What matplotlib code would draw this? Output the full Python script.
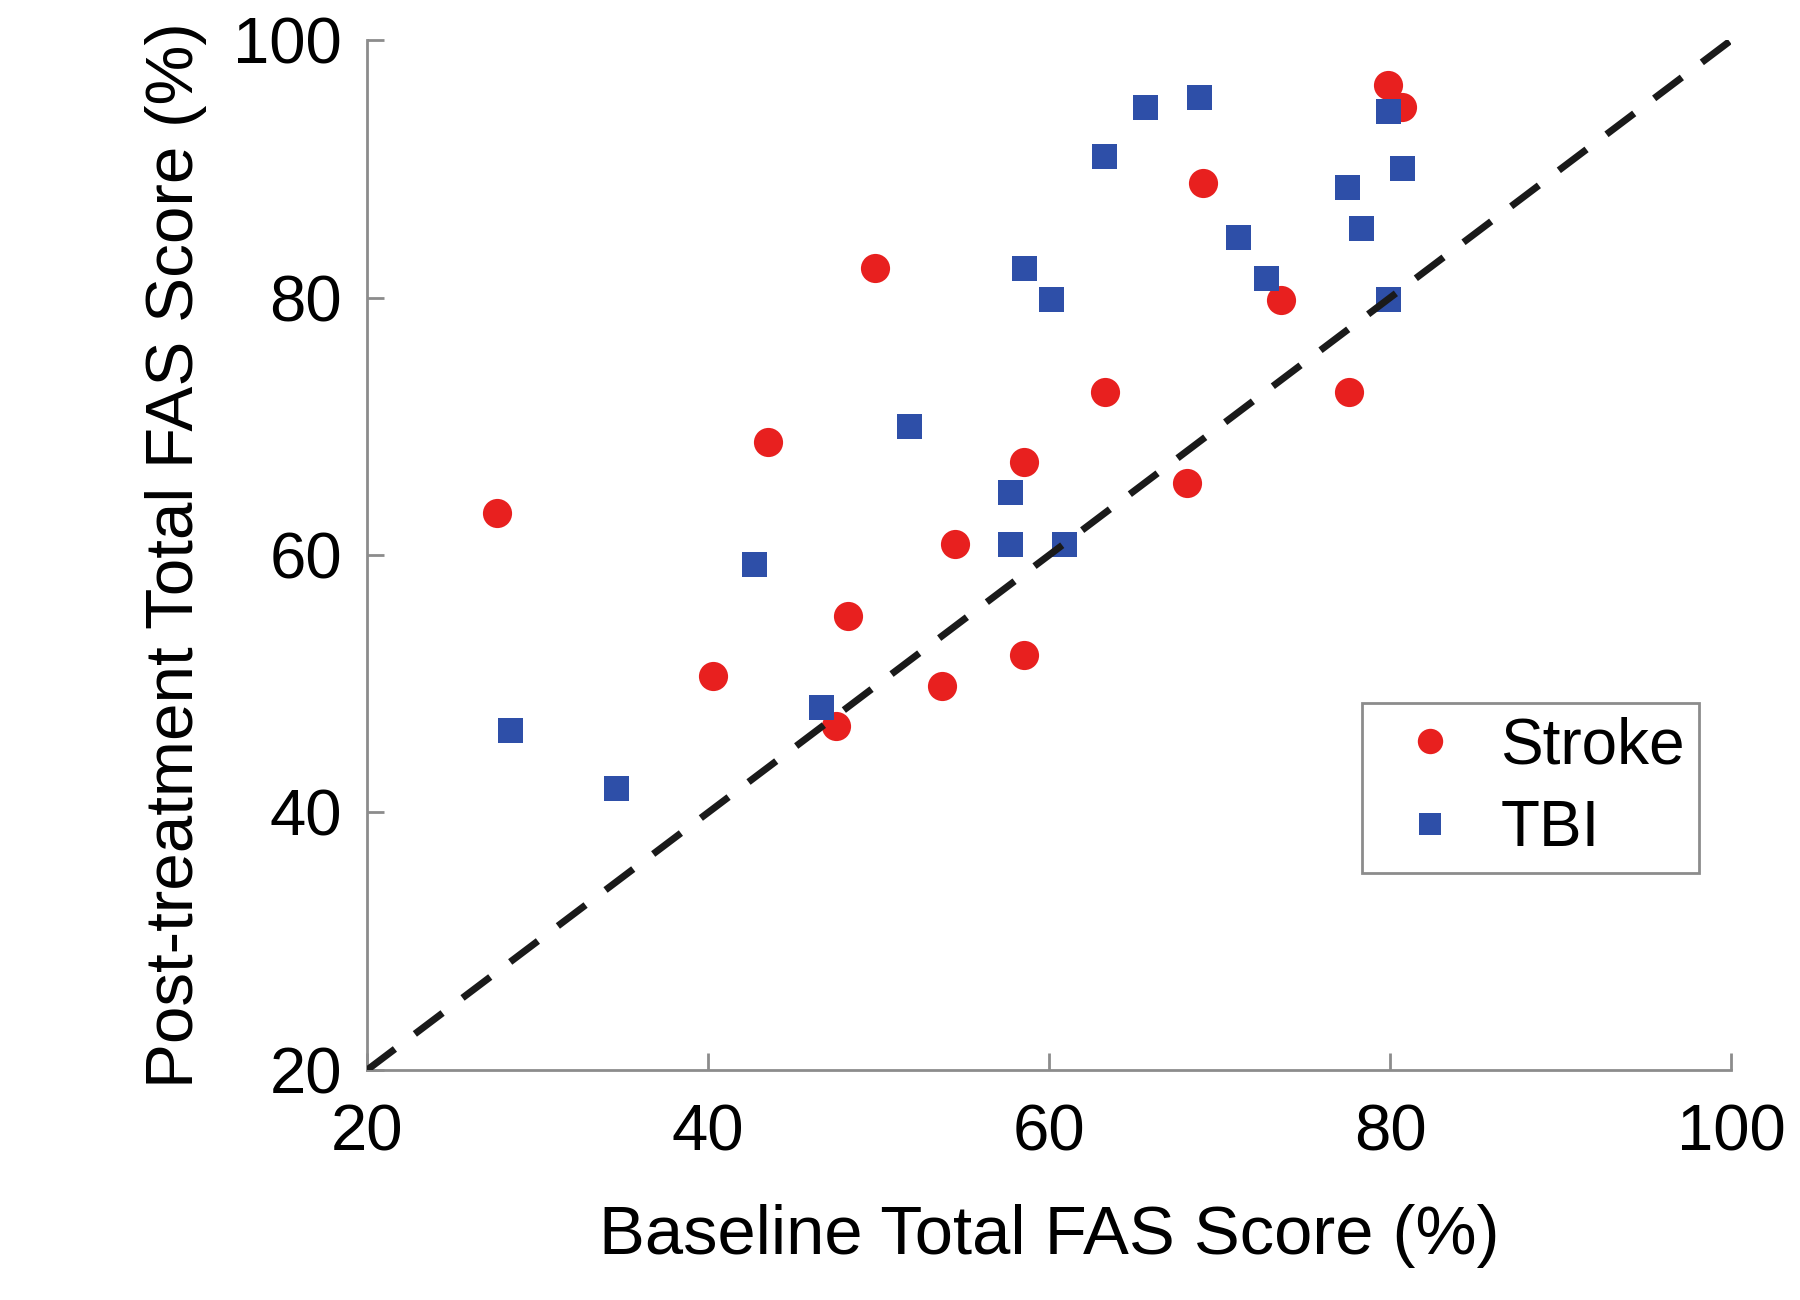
import numpy as np
import matplotlib
matplotlib.use("Agg")
import matplotlib.pyplot as plt

plt.rcParams['font.family'] = ['Liberation Sans', 'DejaVu Sans']

# Stroke group (baseline %, post-treatment %)
stroke_base = [27.6, 79.9, 80.7, 69.0, 49.8, 73.6, 63.3, 77.6, 43.5, 58.5,
               68.1, 54.5, 48.2, 40.3, 58.5, 53.7, 47.5]
stroke_post = [63.3, 96.5, 94.8, 88.9, 82.3, 79.8, 72.7, 72.7, 68.8, 67.2,
               65.6, 60.9, 55.3, 50.6, 52.2, 49.8, 46.7]

# TBI group
tbi_base = [28.4, 34.6, 42.7, 46.6, 51.8, 57.7, 57.7, 60.9, 58.5, 60.1,
            63.2, 65.6, 68.8, 71.1, 72.7, 77.5, 78.3, 80.7, 79.9, 79.9]
tbi_post = [46.4, 41.9, 59.3, 48.2, 70.0, 64.9, 60.9, 60.9, 82.3, 79.9,
            91.0, 94.8, 95.6, 84.7, 81.5, 88.6, 85.4, 90.1, 94.5, 79.9]

ticks = [20, 40, 60, 80, 100]
identity = [20, 100]

red = '#e8201f'
blue = '#2e4fa8'
gray = '#8c8c8c'

fig = plt.figure(figsize=(18, 13), dpi=100)
ax = fig.add_axes([0.204, 0.177, 0.7577, 0.792])

ax.plot(stroke_base, stroke_post, 'o', color=red, ms=21, mew=0, label='Stroke', zorder=2)
ax.plot(tbi_base, tbi_post, 's', color=blue, ms=18, mew=0, label='TBI', zorder=3)
ax.plot(identity, identity, '--', color='#1a1a1a', lw=5, dashes=(5.0, 3.6), zorder=4)

ax.set_xlim(20, 100)
ax.set_ylim(20, 100)
ax.set_xticks(ticks)
ax.set_yticks(ticks)

for s in ['top', 'right']:
    ax.spines[s].set_visible(False)
for s in ['left', 'bottom']:
    ax.spines[s].set_color(gray)
    ax.spines[s].set_linewidth(2)

ax.tick_params(direction='in', length=12, width=2, color=gray, labelsize=47)
ax.tick_params(axis='x', pad=24)
ax.tick_params(axis='y', pad=18)

ax.set_xlabel('Baseline Total FAS Score (%)', fontsize=49.5, labelpad=29)
ax.set_ylabel('Post-treatment Total FAS Score (%)', fontsize=48.5, labelpad=19)

leg = ax.legend(loc='lower center', bbox_to_anchor=(0.853, 0.191), fontsize=46,
                markerscale=0.87, fancybox=False, framealpha=1,
                edgecolor=gray, handletextpad=0.25, borderpad=0.22,
                borderaxespad=0, labelspacing=0.35, handlelength=1.7)
leg.get_frame().set_linewidth(2)

fig.savefig('out.png', dpi=100, facecolor='white')
